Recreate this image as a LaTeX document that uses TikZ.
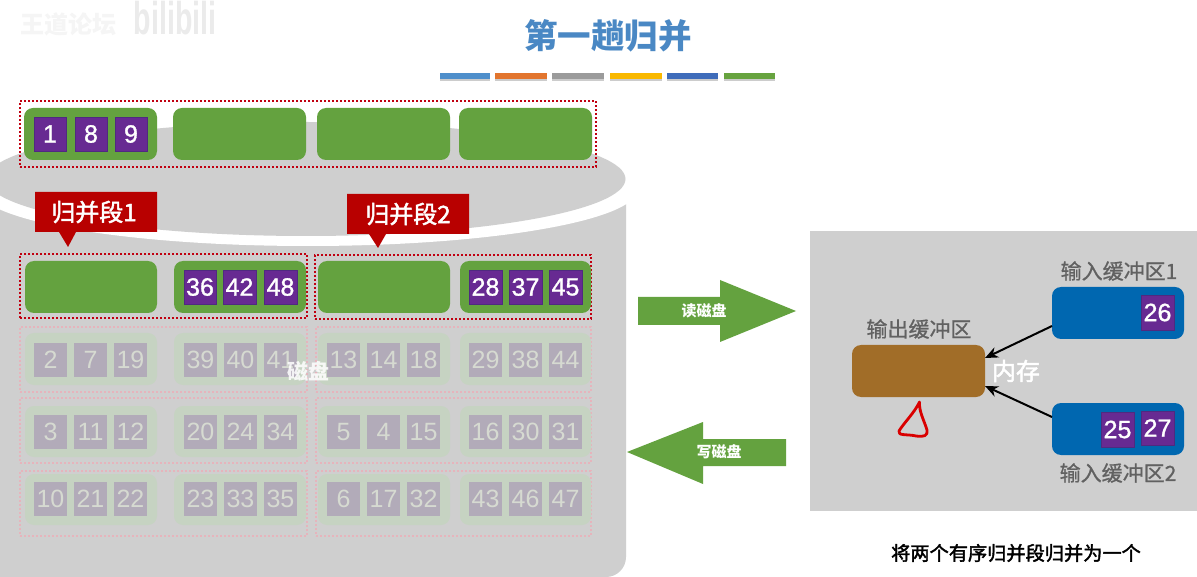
\documentclass[tikz,border=0pt]{standalone}
\usepackage{fontspec}
\setmainfont{Liberation Sans}
\newfontfamily\cjk{Noto Sans CJK SC}
\newfontfamily\cjkm[FakeBold=0.8]{Noto Sans CJK SC}
\newfontfamily\cjkh[FakeBold=2]{Noto Sans CJK SC}
\newfontfamily\numf[FakeBold=1.2]{Liberation Sans}
\usetikzlibrary{arrows.meta,calc}
\definecolor{bggray}{HTML}{CFCFCF}
\definecolor{grn}{HTML}{64A23F}
\definecolor{pur}{HTML}{672A92}
\definecolor{purd}{HTML}{4F2A80}
\definecolor{redd}{HTML}{B80000}
\definecolor{dotred}{HTML}{C00010}
\definecolor{fgrn}{HTML}{C6D3C2}
\definecolor{fpur}{HTML}{B2ABB9}
\definecolor{ftxt}{HTML}{D6DAD1}
\definecolor{fred}{HTML}{E6B4BC}
\definecolor{blu}{HTML}{0067B0}
\definecolor{brn}{HTML}{A16D28}
\definecolor{ttl}{HTML}{4A88C4}
\tikzset{
  x=1pt,y=-1pt,
  greenbox/.style={fill=grn,rounded corners=9pt},
  fadegreen/.style={fill=fgrn,rounded corners=9pt},
  square/.style={fill=pur,draw=purd,line width=.5pt,text=white,font=\numf\fontsize{25}{25}\selectfont},
  fadesquare/.style={fill=fpur,text=ftxt,font=\fontsize{25}{25}\selectfont},
  dotbox/.style={draw=dotred,line width=2pt,dash pattern=on 2pt off 2pt},
  fadedot/.style={draw=fred,line width=1.8pt,dash pattern=on 1.8pt off 2.2pt},
  bluebox/.style={fill=blu,rounded corners=9pt},
  brownbox/.style={fill=brn,rounded corners=9pt},
  graylabel/.style={text=black!62,font=\cjkm\fontsize{21}{21}\selectfont,inner sep=0pt},
  blockarrow/.style={fill=grn},
  arrowlabel/.style={text=white,font=\cjk\bfseries\fontsize{15}{15}\selectfont,inner sep=0pt},
  callout/.style={fill=redd},
  calloutlabel/.style={text=white,font=\cjkh\fontsize{24}{24}\selectfont,inner sep=0pt},
  link/.style={draw=black,line width=2pt,-{Stealth[length=13pt,width=11pt]}},
}
% style, x1, y1, x2, y2, name, text
\newcommand\pbox[7]{%
  \pgfmathsetmacro\bxw{#4-#2}\pgfmathsetmacro\bxh{#5-#3}%
  \node[inner sep=0pt,outer sep=0pt,#1,minimum width=\bxw pt,minimum height=\bxh pt] (#6) at ({(#2+#4)/2},{(#3+#5)/2}) {#7};}
\begin{document}
\begin{tikzpicture}
\useasboundingbox (0,0) rectangle (1197,577);
\clip (0,0) rectangle (1197,577);
\fill[white] (0,0) rectangle (1197,577);
% watermark
\node[text=black!4,font=\cjk\bfseries\fontsize{24}{24}\selectfont,inner sep=0pt] (wm1) at (68,24) {王道论坛};
\node[text=black!8,font=\bfseries\fontsize{46}{46}\selectfont,inner sep=0pt] (wm2) at (175,18) {\scalebox{.62}[1]{bilibili}};
% title
\node[text=ttl,font=\cjk\bfseries\fontsize{33.5}{33.5}\selectfont,inner sep=0pt] (title) at (608,36) {第一趟归并};
% colour bars
\foreach \a/\b/\c in {440/490/4F8FCB,495/547/E2752E,552/604/9B9B9B,610/662/F9B800,667/718/3F6CBA,724/775/67A33F}{
  \definecolor{cc}{HTML}{\c}
  \fill[black!20] (\a,74) rectangle (\b,81);
  \fill[cc] (\a,73) rectangle (\b,79);
}
% disk cylinder
\fill[bggray] (-20,189) -- (626,189) -- (626,557) arc[start angle=0,end angle=90,radius=20] -- (-20,577) -- cycle;
\fill[white] (-20,120) rectangle (640,189);
\fill[white] (308,189) ellipse[x radius=330,y radius=57];
\fill[bggray] (306,179) ellipse[x radius=319.5,y radius=57];
% top row
\pbox{dotbox}{20}{101}{596}{167}{topdots}{}
\pbox{greenbox}{24}{108}{157}{160}{t1}{}
\pbox{greenbox}{173}{108}{306}{160}{t2}{}
\pbox{greenbox}{317}{108}{450}{160}{t3}{}
\pbox{greenbox}{459}{108}{592}{160}{t4}{}
\pbox{square}{34}{117}{66}{151}{ts1}{1}
\pbox{square}{75}{117}{107}{151}{ts2}{8}
\pbox{square}{115}{117}{147}{151}{ts3}{9}
% callouts
\fill[callout] (35,192) -- (157,192) -- (157,232) -- (76,232) -- (68,247) -- (59,232) -- (35,232) -- cycle;
\node[calloutlabel] (c1) at (94,212) {归并段1};
\fill[callout] (347,194) -- (469,194) -- (469,234) -- (386,234) -- (378,248) -- (369,234) -- (347,234) -- cycle;
\node[calloutlabel] (c2) at (408,214) {归并段2};
% active row
\pbox{dotbox}{20}{254}{307}{318}{ad1}{}
\pbox{dotbox}{315}{255}{591}{319}{ad2}{}
\pbox{greenbox}{25}{261}{157}{313}{a1}{}
\pbox{greenbox}{174}{261}{306}{313}{a2}{}
\pbox{greenbox}{318}{261}{450}{313}{a3}{}
\pbox{greenbox}{460}{261}{591}{313}{a4}{}
\pbox{square}{184}{270}{216}{304}{as1}{36}
\pbox{square}{223}{270}{256}{304}{as2}{42}
\pbox{square}{264}{270}{297}{304}{as3}{48}
\pbox{square}{469}{270}{502}{304}{as4}{28}
\pbox{square}{509}{270}{542}{304}{as5}{37}
\pbox{square}{549}{270}{582}{304}{as6}{45}
% faded rows
\foreach \r/\dt/\db/\gt/\gb/\st/\nums in {
  1/327/392/333/385/343/{2,7,19,39,40,41,13,14,18,29,38,44},
  2/398/463/406/457/415/{3,11,12,20,24,34,5,4,15,16,30,31},
  3/471/536/474/525/482/{10,21,22,23,33,35,6,17,32,43,46,47}}{
  \pbox{fadedot}{20}{\dt}{307}{\db}{fd\r a}{}
  \pbox{fadedot}{316}{\dt}{591}{\db}{fd\r b}{}
  \pbox{fadegreen}{25}{\gt}{157}{\gb}{fg\r a}{}
  \pbox{fadegreen}{174}{\gt}{306}{\gb}{fg\r b}{}
  \pbox{fadegreen}{318}{\gt}{450}{\gb}{fg\r c}{}
  \pbox{fadegreen}{460}{\gt}{591}{\gb}{fg\r d}{}
  \pgfmathsetmacro\sbb{\st+34}
  \foreach \n [count=\i] in \nums {
    \pgfmathsetmacro\sx{{34,74,114,184,224,264,327,367,407,469,509,549}[\i-1]}
    \pgfmathsetmacro\sxx{\sx+33}
    \pbox{fadesquare}{\sx}{\st}{\sxx}{\sbb}{fs\r x\i}{\n}
  }
}
\node[text=white,opacity=.85,font=\cjk\bfseries\fontsize{21}{21}\selectfont,inner sep=0pt] (disk) at (308,371) {磁盘};
% read / write arrows
\fill[blockarrow] (638,297) -- (720,297) -- (720,280) -- (796,311) -- (720,342) -- (720,325) -- (638,325) -- cycle;
\node[arrowlabel] (rd) at (704,311) {读磁盘};
\fill[blockarrow] (786,439) -- (703,439) -- (703,422) -- (627,452) -- (703,484) -- (703,466) -- (786,466) -- cycle;
\node[arrowlabel] (wr) at (719,452) {写磁盘};
% memory
\pbox{fill=bggray}{810}{231}{1197}{511}{mem}{}
\pbox{bluebox}{1052}{287}{1184}{339}{in1}{}
\pbox{bluebox}{1052}{403}{1184}{455}{in2}{}
\pbox{brownbox}{852}{345}{985}{397}{out}{}
\pbox{square}{1141}{295}{1174}{330}{b26}{26}
\pbox{square}{1101}{412}{1134}{447}{b25}{25}
\pbox{square}{1141}{411}{1174}{445}{b27}{27}
\draw[link] ([yshift=13pt]in1.south west) -- ([yshift=-13pt]out.north east);
\draw[link] ([yshift=-14pt]in2.north west) -- ([yshift=11pt]out.south east);
\node[graylabel] (l1) at (1119,271) {输入缓冲区1};
\node[graylabel] (l2) at (1118,473) {输入缓冲区2};
\node[graylabel] (l3) at (919,329) {输出缓冲区};
\node[text=white,font=\cjkh\fontsize{24}{24}\selectfont,inner sep=0pt] (mm) at (1016,371) {内存};
\draw[draw=red!85!black,line width=2.8pt,line cap=round,line join=round]
  (919.5,402) .. controls (915,412) and (903,424) .. (899,431)
  .. controls (897,436) and (908,434) .. (916,436)
  .. controls (924,437) and (928,436) .. (927,430)
  .. controls (924,420) and (919,412) .. (919.5,402);
\node[text=black,font=\cjkh\fontsize{19.2}{19.2}\selectfont,inner sep=0pt] (cap) at (1016,553) {将两个有序归并段归并为一个};
\end{tikzpicture}
\end{document}
